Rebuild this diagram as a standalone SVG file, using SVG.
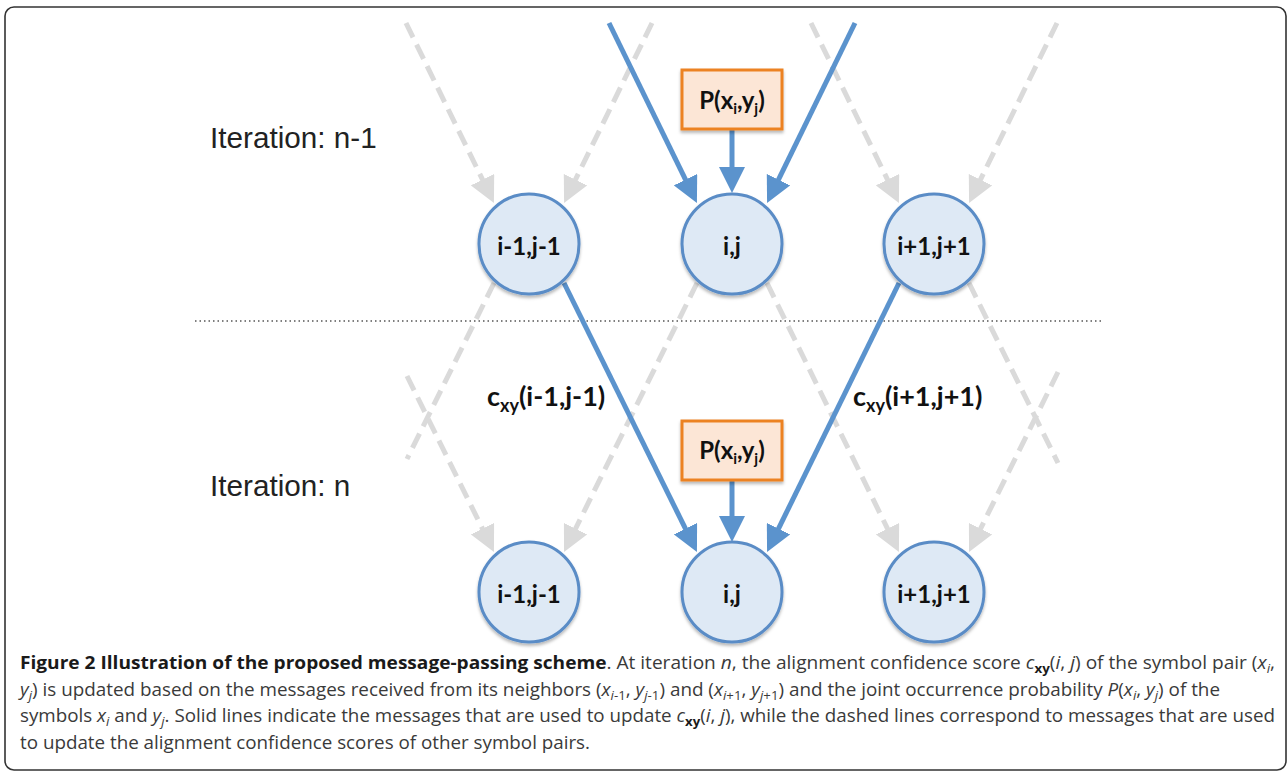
<svg xmlns="http://www.w3.org/2000/svg" width="1287" height="775" viewBox="0 0 1287 775">
<style>
.sol{stroke:#5B93CD;stroke-width:5;fill:none;marker-end:url(#ab)}
.dsh{stroke:#DADADA;stroke-width:5;fill:none;stroke-dasharray:16 8}
.dsha{stroke:#DADADA;stroke-width:5;fill:none;stroke-dasharray:16 8;marker-end:url(#ag)}
.node{fill:#DEE9F5;stroke:#5A8CC6;stroke-width:3}
.pbox{fill:#FCE6D6;stroke:#EC8222;stroke-width:3}
.lbl{font-family:Lato,"Open Sans","Liberation Sans",sans-serif;font-weight:bold;font-size:24px;fill:#111;text-anchor:middle}
.cxy{font-family:Lato,"Open Sans","Liberation Sans",sans-serif;font-weight:bold;font-size:27px;fill:#111}
.iter{font-family:"Liberation Sans",Arial,sans-serif;font-size:29.7px;fill:#222}
.cap{font-family:"Open Sans","Liberation Sans",sans-serif;font-size:18.5px;fill:#3a3a3a}
.b{font-weight:bold;fill:#1a1a1a}
.i{font-style:italic}
</style>
<defs>
<marker id="ab" viewBox="0 0 10 10" refX="7.7" refY="5" markerWidth="5.2" markerHeight="5.2" orient="auto" markerUnits="strokeWidth"><path d="M0,0 L10,5 L0,10 z" fill="#5B93CD"/></marker>
<marker id="ag" viewBox="0 0 10 10" refX="7.7" refY="5" markerWidth="5.2" markerHeight="5.2" orient="auto" markerUnits="strokeWidth"><path d="M0,0 L10,5 L0,10 z" fill="#DADADA"/></marker>
<filter id="sh" x="-20%" y="-20%" width="140%" height="150%"><feDropShadow dx="0" dy="2.5" stdDeviation="1.8" flood-color="#000" flood-opacity="0.28"/></filter>
</defs>
<rect x="5" y="7" width="1281" height="763" rx="9" fill="#fff" stroke="#333" stroke-width="1.6"/>
<line x1="195" y1="321" x2="1103" y2="321" stroke="#555" stroke-width="1.5" stroke-dasharray="1.5 3"/>
<text class="iter" x="210" y="148">Iteration: n-1</text>
<text class="iter" x="210" y="496">Iteration: n</text>
<g id="connectors">
<line class="dsha" x1="406" y1="23" x2="491.3" y2="197.6"/>
<line class="dsha" x1="652" y1="23" x2="566.7" y2="197.6"/>
<line class="dsha" x1="811" y1="23" x2="896.3" y2="197.6"/>
<line class="dsha" x1="1057" y1="23" x2="971.7" y2="197.6"/>
<line class="dsh" x1="494" y1="283" x2="407" y2="459"/>
<line class="dsh" x1="969" y1="283" x2="1058" y2="463"/>
<line class="dsha" x1="407" y1="376" x2="491.3" y2="546.6"/>
<line class="dsha" x1="1058" y1="372" x2="971.7" y2="546.6"/>
<line class="dsha" x1="697" y1="283" x2="566.7" y2="546.6"/>
<line class="dsha" x1="767" y1="283" x2="896.3" y2="546.6"/>
<line class="sol" x1="609" y1="23" x2="694.3" y2="197.6"/>
<line class="sol" x1="855" y1="23" x2="769.7" y2="197.6"/>
<line class="sol" x1="732" y1="129" x2="732" y2="187"/>
<line class="sol" x1="564" y1="283" x2="694.3" y2="546.6"/>
<line class="sol" x1="899" y1="283" x2="769.7" y2="546.6"/>
<line class="sol" x1="732" y1="480" x2="732" y2="536"/>
</g>
<g id="n1_im1"><circle class="node" cx="529" cy="244" r="50" filter="url(#sh)"/><text class="lbl" x="529" y="255">i-1,j-1</text></g>
<g id="n1_i"><circle class="node" cx="732" cy="244" r="50" filter="url(#sh)"/><text class="lbl" x="732" y="255">i,j</text></g>
<g id="n1_ip1"><circle class="node" cx="934" cy="244" r="50" filter="url(#sh)"/><text class="lbl" x="934" y="255">i+1,j+1</text></g>
<g id="p1"><rect class="pbox" x="682" y="70" width="100" height="59" filter="url(#sh)"/><text class="lbl" x="732" y="109">P(x<tspan font-size="15" dy="5">i</tspan><tspan dy="-5">,y</tspan><tspan font-size="15" dy="5">j</tspan><tspan dy="-5">)</tspan></text></g>
<g id="n2_im1"><circle class="node" cx="529" cy="592" r="50" filter="url(#sh)"/><text class="lbl" x="529" y="603">i-1,j-1</text></g>
<g id="n2_i"><circle class="node" cx="732" cy="592" r="50" filter="url(#sh)"/><text class="lbl" x="732" y="603">i,j</text></g>
<g id="n2_ip1"><circle class="node" cx="934" cy="592" r="50" filter="url(#sh)"/><text class="lbl" x="934" y="603">i+1,j+1</text></g>
<g id="p2"><rect class="pbox" x="682" y="421" width="100" height="59" filter="url(#sh)"/><text class="lbl" x="732" y="459">P(x<tspan font-size="15" dy="5">i</tspan><tspan dy="-5">,y</tspan><tspan font-size="15" dy="5">j</tspan><tspan dy="-5">)</tspan></text></g>
<g id="labels">
<text class="cxy" x="487" y="406">c<tspan font-size="18" dy="6">xy</tspan><tspan dy="-6">(i-1,j-1)</tspan></text>
<text class="cxy" x="853" y="406">c<tspan font-size="18" dy="6">xy</tspan><tspan dy="-6">(i+1,j+1)</tspan></text>
</g>
<g id="caption" class="cap">
<text x="20" y="669" textLength="1255" lengthAdjust="spacingAndGlyphs"><tspan class="b">Figure 2 Illustration of the proposed message-passing scheme</tspan>. At iteration <tspan class="i">n</tspan>, the alignment confidence score <tspan class="i">c</tspan><tspan class="b" font-size="13" dy="4">xy</tspan><tspan dy="-4">(</tspan><tspan class="i">i</tspan>, <tspan class="i">j</tspan>) of the symbol pair (<tspan class="i">x</tspan><tspan class="i" font-size="13" dy="4">i</tspan><tspan dy="-4">,</tspan></text>
<text x="20" y="695.5" textLength="1200" lengthAdjust="spacingAndGlyphs"><tspan class="i">y</tspan><tspan class="i" font-size="13" dy="4">j</tspan><tspan dy="-4">) is updated based on the messages received from its neighbors (</tspan><tspan class="i">x</tspan><tspan font-size="13" dy="4"><tspan class="i">i</tspan>-1</tspan><tspan dy="-4">, </tspan><tspan class="i">y</tspan><tspan font-size="13" dy="4"><tspan class="i">j</tspan>-1</tspan><tspan dy="-4">) and (</tspan><tspan class="i">x</tspan><tspan font-size="13" dy="4"><tspan class="i">i</tspan>+1</tspan><tspan dy="-4">, </tspan><tspan class="i">y</tspan><tspan font-size="13" dy="4"><tspan class="i">j</tspan>+1</tspan><tspan dy="-4">) and the joint occurrence probability </tspan><tspan class="i">P</tspan>(<tspan class="i">x</tspan><tspan class="i" font-size="13" dy="4">i</tspan><tspan dy="-4">, </tspan><tspan class="i">y</tspan><tspan class="i" font-size="13" dy="4">j</tspan><tspan dy="-4">) of the</tspan></text>
<text x="20" y="722" textLength="1255" lengthAdjust="spacingAndGlyphs">symbols <tspan class="i">x</tspan><tspan class="i" font-size="13" dy="4">i</tspan><tspan dy="-4"> and </tspan><tspan class="i">y</tspan><tspan class="i" font-size="13" dy="4">j</tspan><tspan dy="-4">. Solid lines indicate the messages that are used to update </tspan><tspan class="i">c</tspan><tspan class="b" font-size="13" dy="4">xy</tspan><tspan dy="-4">(</tspan><tspan class="i">i</tspan>, <tspan class="i">j</tspan>), while the dashed lines correspond to messages that are used</text>
<text x="20" y="748.5" textLength="570" lengthAdjust="spacingAndGlyphs">to update the alignment confidence scores of other symbol pairs.</text>
</g>
</svg>
